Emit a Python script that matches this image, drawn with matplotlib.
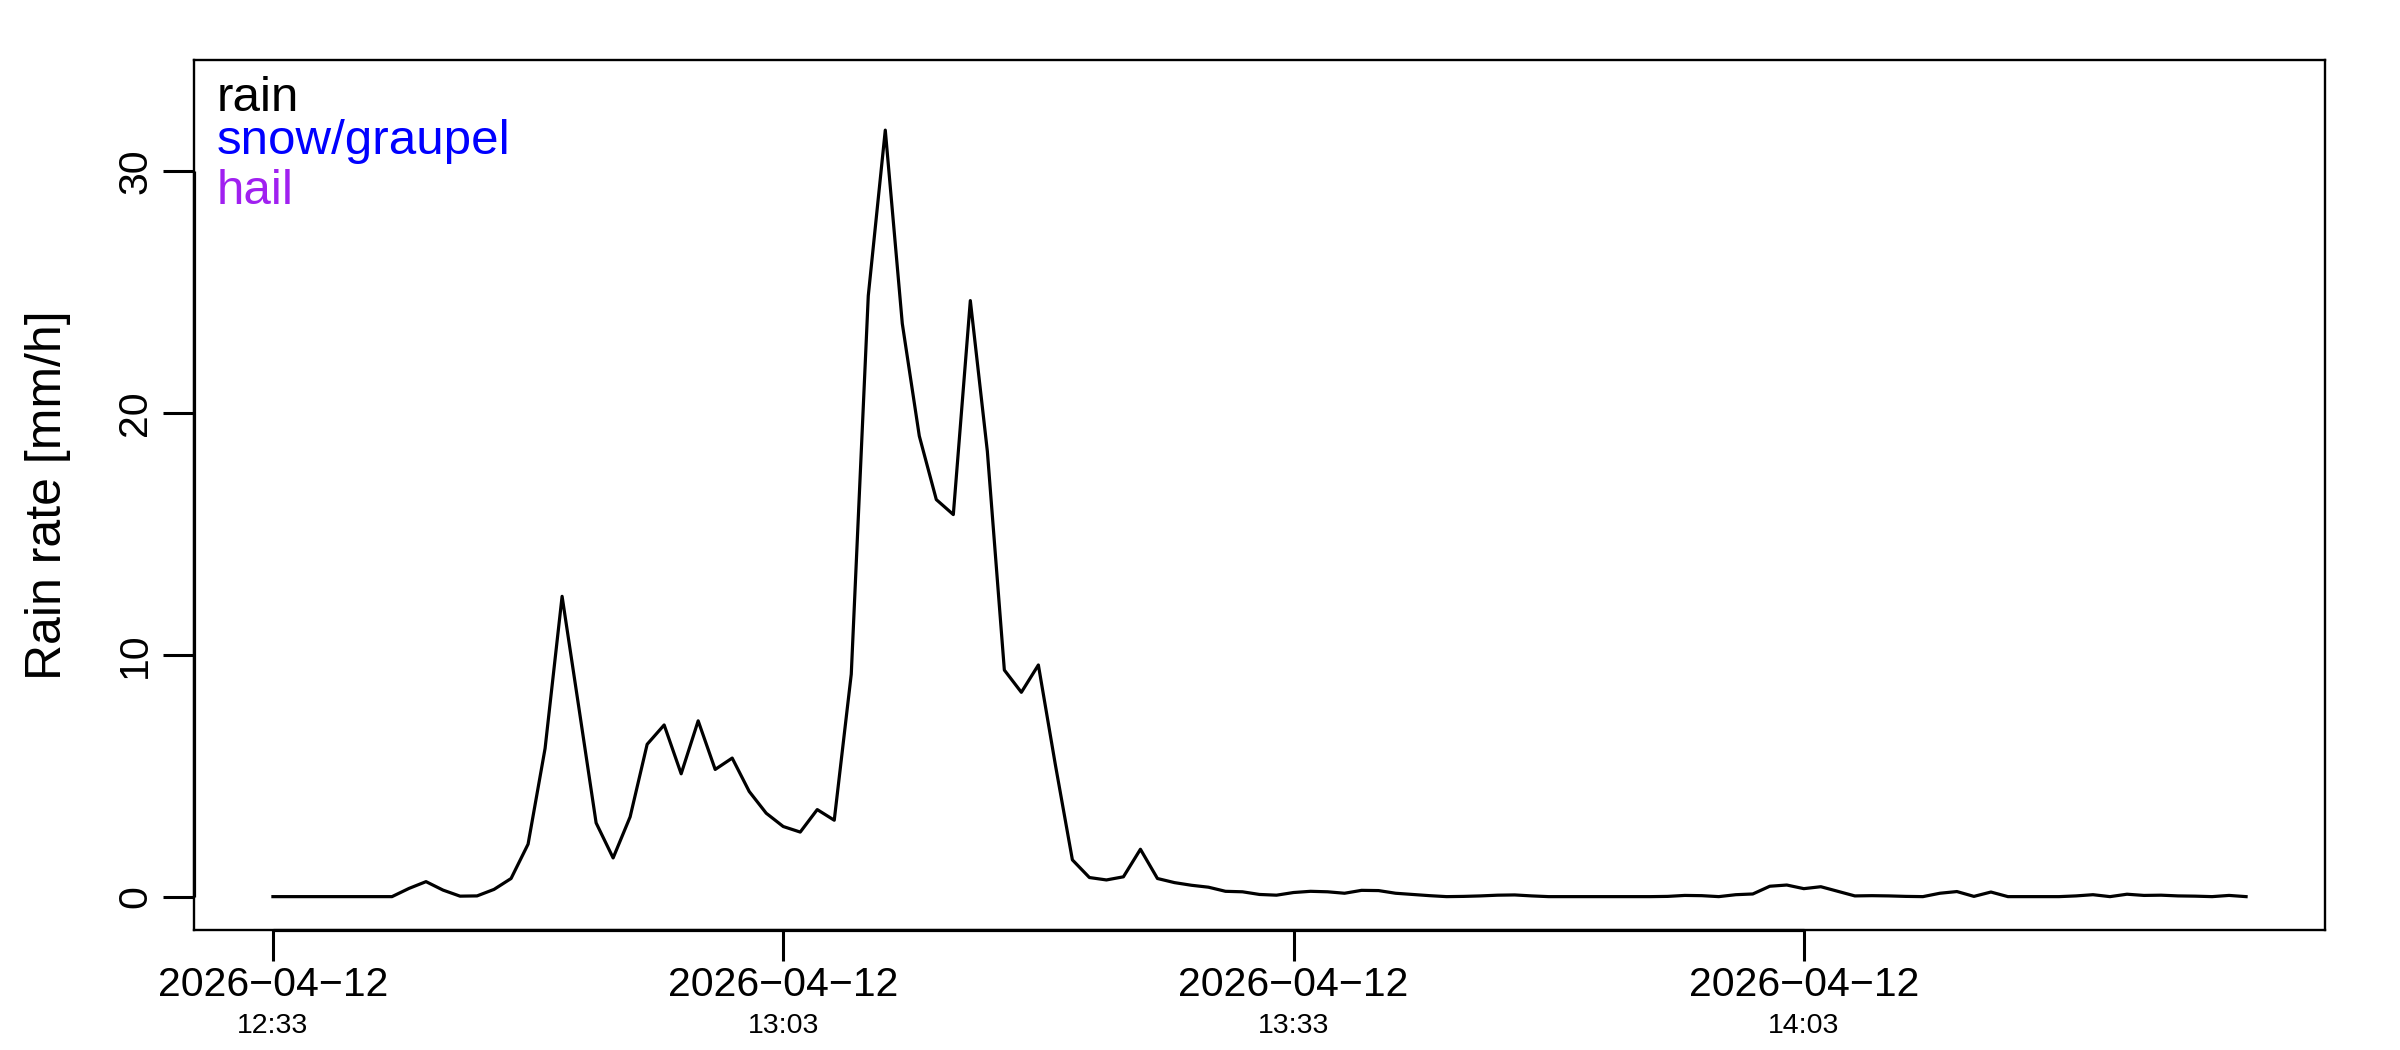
import matplotlib
matplotlib.use("Agg")
import matplotlib.pyplot as plt
import pandas as pd

plt.rcParams["font.family"] = ["Liberation Sans", "DejaVu Sans"]

# Rain rate [mm/h], one value per minute starting 2026-04-12 12:33
rain_rate = [
    0, 0, 0, 0, 0, 0, 0, 0,
    0.34, 0.62, 0.27, 0.02, 0.03, 0.30, 0.75, 2.17, 6.13, 12.42,
    7.75, 3.05, 1.60, 3.30, 6.30, 7.10, 5.08, 7.27, 5.26, 5.73,
    4.35, 3.45, 2.90, 2.67, 3.60, 3.16, 9.20, 24.85, 31.70, 23.70,
    19.05, 16.42, 15.80, 24.65, 18.42, 9.37, 8.45, 9.58, 5.45, 1.52,
    0.79, 0.69, 0.82, 1.96, 0.75, 0.58, 0.47, 0.39, 0.22, 0.20,
    0.09, 0.06, 0.17, 0.22, 0.20, 0.14, 0.26, 0.25, 0.14, 0.09,
    0.04, 0.00, 0.01, 0.03, 0.06, 0.07, 0.03, 0.00, 0.00, 0.00,
    0.00, 0.00, 0.00, 0.00, 0.01, 0.05, 0.04, 0.00, 0.08, 0.11,
    0.43, 0.48, 0.33, 0.41, 0.22, 0.03, 0.04, 0.03, 0.01, 0.00,
    0.14, 0.21, 0.01, 0.19, 0.00, 0.00, 0.00, 0.00, 0.03, 0.08,
    0.00, 0.10, 0.05, 0.06, 0.03, 0.02, 0.00, 0.05, 0.00,
]
start_time = "2026-04-12 12:33"
tick_times = ["2026-04-12 12:33", "2026-04-12 13:03", "2026-04-12 13:33", "2026-04-12 14:03"]
y_ticks = [0, 10, 20, 30]
legend_labels = ["rain", "snow/graupel", "hail"]
legend_colors = ["black", "#0000FF", "#A020F0"]

times = pd.date_range(start_time, periods=len(rain_rate), freq="min")
ticks = pd.to_datetime(tick_times)

fig = plt.figure(figsize=(24, 10.5), dpi=100)
ax = fig.add_axes([194 / 2400, 1 - 930 / 1050, 2131 / 2400, 870 / 1050])

ax.plot(times, rain_rate, color="black", lw=2.3)

span = times[-1] - times[0]
ax.set_xlim(times[0] - 0.04 * span, times[-1] + 0.04 * span)
ax.set_ylim(-1.38, 34.6)

for s in ax.spines.values():
    s.set_linewidth(1.7)

# R-style axis lines running from first to last tick
ax.plot([ticks[0], ticks[-1]], [0, 0], transform=ax.get_xaxis_transform(),
        color="black", lw=2.3, clip_on=False, solid_capstyle="butt")
ax.plot([0, 0], [y_ticks[0], y_ticks[-1]], transform=ax.get_yaxis_transform(),
        color="black", lw=2.3, clip_on=False, solid_capstyle="butt")

ax.set_xticks(ticks)
ax.set_xticklabels([t.strftime("%Y\u2212%m\u2212%d") for t in ticks], fontsize=29.5)
for t in ticks:
    ax.text(t, -0.110, t.strftime("%H:%M"), transform=ax.get_xaxis_transform(),
            ha="center", va="center", fontsize=20.5)

ax.set_yticks(y_ticks)
ax.set_yticklabels([str(v) for v in y_ticks], fontsize=29.5, rotation=90, va="center")

ax.tick_params(axis="both", direction="out", length=22.3, width=2.2)
ax.tick_params(axis="x", pad=3.6)
ax.tick_params(axis="y", pad=6.5)

fig.text(48 / 2400, 1 - 495 / 1050, "Rain rate [mm/h]", rotation=90,
         ha="center", va="center", fontsize=36)

baselines = [111, 154, 204]
for lab, col, yb in zip(legend_labels, legend_colors, baselines):
    fig.text(217 / 2400, 1 - yb / 1050, lab, color=col, fontsize=35.5,
             ha="left", va="baseline")

fig.savefig("out.png", dpi=100)
